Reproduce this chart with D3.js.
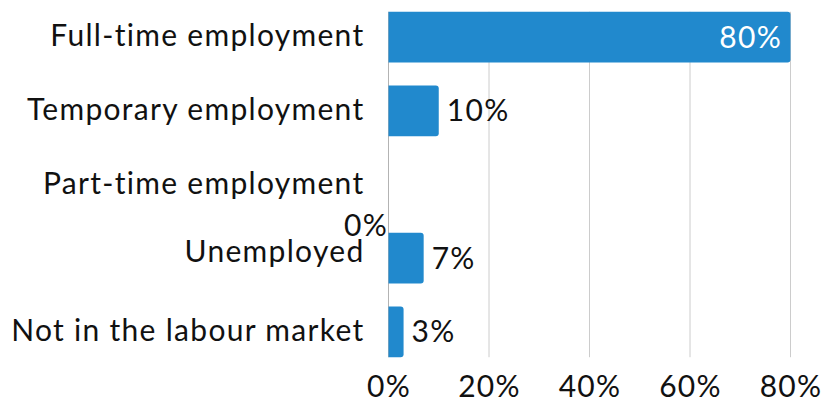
<!DOCTYPE html>
<html>
<head>
<meta charset="utf-8">
<script src="https://cdn.jsdelivr.net/npm/d3@7"></script>
<style>
  html, body { margin: 0; padding: 0; background: #fff; }
  svg { display: block; font-family: Lato, sans-serif; letter-spacing: 1.3px; }
</style>
</head>
<body>
<svg id="chart" width="825" height="399"></svg>
<script>
// Employment status shares (%)
const categories = [
  "Full-time employment",
  "Temporary employment",
  "Part-time employment",
  "Unemployed",
  "Not in the labour market"
];
const values = [80, 10, 0, 7, 3];
const tickValues = [0, 20, 40, 60, 80];

const svg = d3.select("#chart");
const W = 825, H = 399;
const margin = { left: 388.5, right: 34.5, top: 0, bottom: 29 };
const fontFamily = "Lato, sans-serif";

const x = d3.scaleLinear().domain([0, 80]).range([margin.left, W - margin.right]);
const y = d3.scaleBand().domain(categories)
  .range([margin.top, H - margin.bottom - 1])
  .paddingInner(0.31).paddingOuter(0.16);

const data = categories.map((c, i) => ({ cat: c, val: values[i] }));
const barColor = "#2189cd";
const fontSize = 30;

const yTop = y(categories[0]);
const yBot = y(categories[categories.length - 1]) + y.bandwidth();

// vertical gridlines
svg.append("g").selectAll("line")
  .data(tickValues.filter(t => t > 0))
  .join("line")
  .attr("x1", d => x(d)).attr("x2", d => x(d))
  .attr("y1", yTop).attr("y2", yBot)
  .attr("stroke", "#cccccc").attr("stroke-width", 1);

// baseline at zero
svg.append("line")
  .attr("x1", x(0)).attr("x2", x(0))
  .attr("y1", yTop).attr("y2", yBot)
  .attr("stroke", "#b3b3b3").attr("stroke-width", 1);

// bars with rounded right corners
function barPath(d) {
  const x0 = x(0), x1 = x(d.val), y0 = y(d.cat), h = y.bandwidth();
  if (x1 - x0 <= 0) return "";
  const r = Math.min(3, (x1 - x0) / 2);
  return `M${x0},${y0}H${x1 - r}Q${x1},${y0} ${x1},${y0 + r}V${y0 + h - r}Q${x1},${y0 + h} ${x1 - r},${y0 + h}H${x0}Z`;
}
svg.append("g").selectAll("path")
  .data(data)
  .join("path")
  .attr("d", barPath)
  .attr("fill", barColor);

// category labels
svg.append("g").selectAll("text")
  .data(data)
  .join("text")
  .attr("x", 364.5)
  .attr("y", d => y(d.cat) + y.bandwidth() / 2 - (d.cat === "Unemployed" ? 7 : 1.5))
  .attr("dy", "0.35em")
  .attr("text-anchor", "end")
  .attr("font-size", fontSize)
  .attr("fill", "#111")
  .text(d => d.cat);

// value labels
const fmt = v => v + "%";
svg.append("g").selectAll("text")
  .data(data)
  .join("text")
  .each(function (d) {
    const t = d3.select(this);
    const cy = y(d.cat) + y.bandwidth() / 2;
    if (d.val >= 40) {
      t.attr("x", x(d.val) - 8.5).attr("y", cy).attr("text-anchor", "end").attr("fill", "#fff");
    } else if (d.val === 0) {
      t.attr("x", x(0) - 0.5).attr("y", cy + 41).attr("text-anchor", "end").attr("fill", "#111");
    } else {
      t.attr("x", x(d.val) + 8).attr("y", cy).attr("text-anchor", "start").attr("fill", "#111");
    }
  })
  .attr("dy", "0.35em")
  .attr("font-size", fontSize)
  .text(d => fmt(d.val));

// x axis tick labels
const xAxis = d3.axisBottom(x).tickValues(tickValues).tickFormat(d => d + "%").tickSize(0).tickPadding(0);
const ax = svg.append("g").attr("transform", `translate(0, ${H - 2.5})`).call(xAxis);
ax.select(".domain").remove();
ax.selectAll("text")
  .attr("y", 0).attr("dy", 0)
  .attr("font-size", fontSize)
  .attr("font-family", fontFamily)
  .attr("fill", "#111");
</script>
</body>
</html>
